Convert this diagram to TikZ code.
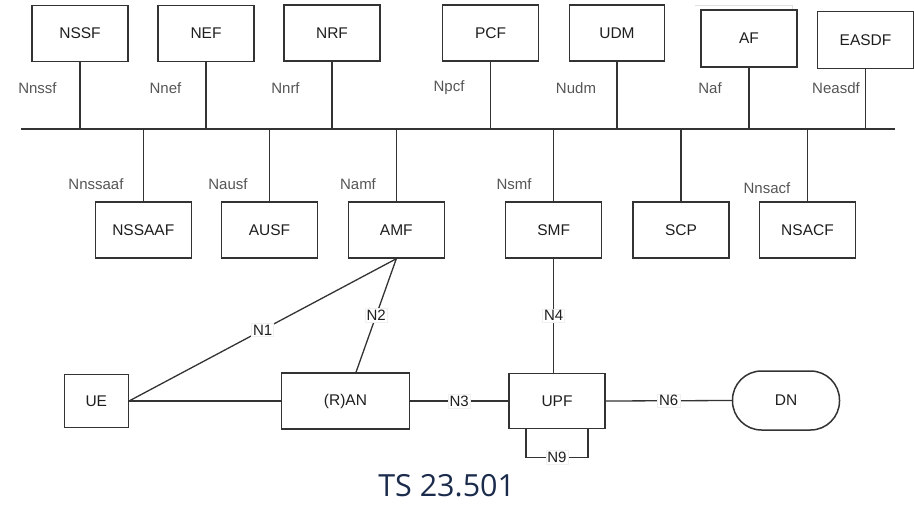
\documentclass[tikz,border=0pt]{standalone}
\usepackage{fontspec}
\setmainfont{Liberation Sans}
\newfontfamily\titlefont{Open Sans}
\definecolor{edge}{HTML}{333333}
\definecolor{iflabel}{HTML}{555555}
\definecolor{boxtext}{HTML}{1E1E1E}
\definecolor{titlecol}{HTML}{1B2B4B}
\begin{document}
\begin{tikzpicture}[x=1pt,y=-1pt,
  nf/.style={draw=edge, line width=1.5pt, fill=white, minimum width=96pt, minimum height=56pt, inner sep=0pt, text=boxtext, font=\fontsize{15.5}{17}\selectfont},
  iface/.style={text=iflabel, inner sep=0pt, font=\fontsize{15}{17}\selectfont},
  nlab/.style={fill=white, draw=gray!12, line width=0.6pt, inner sep=1.5pt, text=boxtext, font=\fontsize{15}{17}\selectfont},
  wire/.style={draw=edge, line width=1.3pt}]
\useasboundingbox (0,0) rectangle (914,504);
% top network functions
\node[nf] (nssf) at (80,33.5) {NSSF};
\node[nf] (nef) at (206,33.5) {NEF};
\node[nf] (nrf) at (332,33) {NRF};
\node[nf] (pcf) at (490.5,33) {PCF};
\node[nf, minimum width=95pt] (udm) at (617,33) {UDM};
\draw[gray!25, line width=0.8pt] (695,5) -- (792,5) -- (792,62);
\node[nf, minimum height=57pt] (af) at (749,38.5) {AF};
\node[nf, minimum height=57pt] (easdf) at (865.5,40) {EASDF};
% bus
\coordinate (busL) at (21,129);
\coordinate (busR) at (895,129);
\draw[wire] (busL) -- (busR);
% lower network functions
\node[nf] (nssaaf) at (143.3,230) {NSSAAF};
\node[nf] (ausf) at (269.5,230) {AUSF};
\node[nf] (amf) at (396.3,230) {AMF};
\node[nf] (smf) at (553.7,230) {SMF};
\node[nf] (scp) at (681,230) {SCP};
\node[nf] (nsacf) at (807.5,230) {NSACF};
% bus drops
\foreach \n in {nssf,nef,nrf,pcf,udm,af,easdf}
  \draw[wire] (\n.south) -- (\n.south |- busL);
\foreach \n in {nssaaf,ausf,amf,smf,scp,nsacf}
  \draw[wire] (\n.north) -- (\n.north |- busL);
% service interface labels
\node[iface] (lnssf) at (37.5,88) {Nnssf};
\node[iface] (lnef) at (165.5,88) {Nnef};
\node[iface] (lnrf) at (285.5,88) {Nnrf};
\node[iface] (lpcf) at (449,88) {Npcf};
\node[iface] (ludm) at (576,88) {Nudm};
\node[iface] (laf) at (710,88) {Naf};
\node[iface] (leasdf) at (836,88) {Neasdf};
\node[iface] (lnssaaf) at (96,184) {Nnssaaf};
\node[iface] (lausf) at (228,184) {Nausf};
\node[iface] (lamf) at (358,184) {Namf};
\node[iface] (lsmf) at (514,184) {Nsmf};
\node[iface] (lnsacf) at (767,188) {Nnsacf};
% user plane
\node[nf, minimum width=64pt, minimum height=53pt] (ue) at (96.3,401) {UE};
\node[nf, minimum width=128pt] (ran) at (345.5,401) {(R)AN};
\node[nf, minimum height=55pt] (upf) at (557,401) {UPF};
\node[nf, minimum width=107pt, minimum height=59pt, rounded corners=29pt] (dn) at (786,400.5) {DN};
% reference points
\draw[wire] (ue.east) -- (ran.west);
\draw[wire] (ue.east) -- node[nlab, pos=0.5] {N1} (amf.south);
\draw[wire] (amf.south) -- node[nlab, pos=0.5] {N2} ([xshift=10.5pt]ran.north);
\draw[wire] (ran.east) -- node[nlab, pos=0.5] {N3} (upf.west);
\draw[wire] (smf.south) -- node[nlab, pos=0.5] {N4} (smf.south |- upf.north);
\draw[wire] (upf.east) -- node[nlab, pos=0.5] {N6} (dn.west);
\draw[wire] ([xshift=-31pt]upf.south) -- ++(0,28) -| node[nlab, pos=0.25] {N9} ([xshift=31pt]upf.south);
% title
\node[anchor=base, text=titlecol, inner sep=0pt, text depth=0pt, font=\titlefont\fontsize{30.5}{34}\selectfont] (title) at (446.7,496.5) {TS 23.501};
\end{tikzpicture}
\end{document}
